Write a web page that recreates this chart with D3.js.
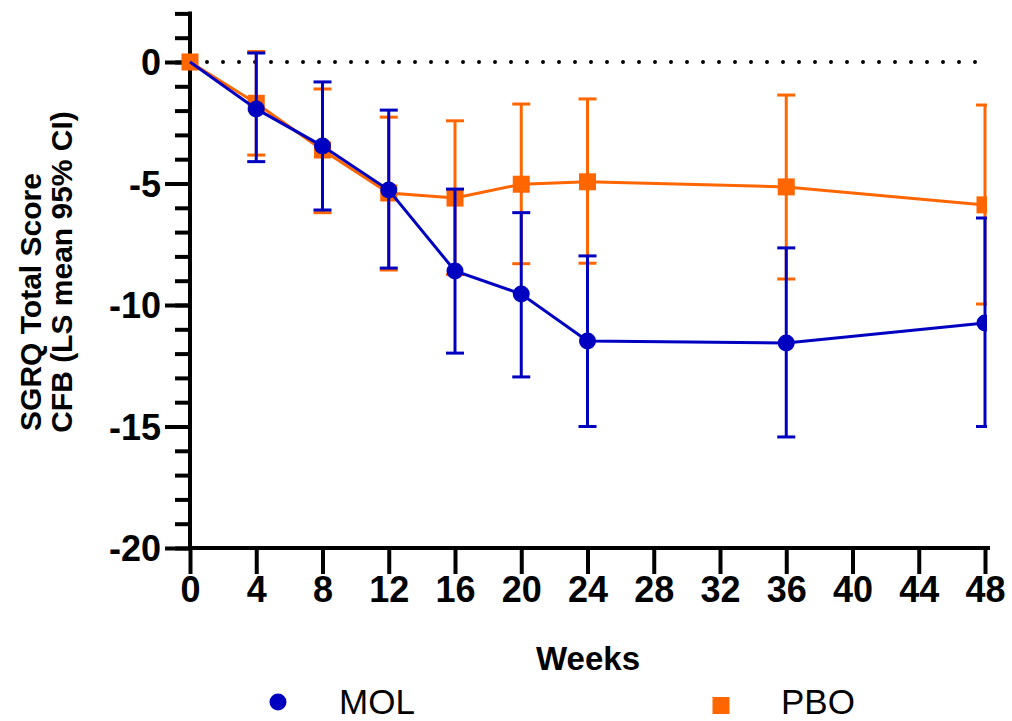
<!DOCTYPE html>
<html>
<head>
<meta charset="utf-8">
<script src="https://cdn.jsdelivr.net/npm/d3@7"></script>
<style>
	body { margin: 0; background: #fff; }
	svg { display: block; font-family: "Liberation Sans", Arial, sans-serif; }
</style>
</head>
<body>
<svg id="chart" width="1012" height="721"></svg>
<script>
// data
const weeks = [0, 4, 8, 12, 16, 20, 24, 36, 48];
const molMean = [0, -1.93, -3.46, -5.27, -8.6, -9.55, -11.48, -11.56, -10.74];
const molLow = [0, -4.1, -6.09, -8.48, -11.98, -12.96, -15.0, -15.43, -15.0];
const molHigh = [0, 0.37, -0.82, -1.98, -5.23, -6.2, -7.98, -7.65, -6.42];
const pboMean = [0, -1.7, -3.62, -5.39, -5.6, -5.03, -4.93, -5.14, -5.88];
const pboLow = [0, -3.83, -6.2, -8.56, -8.75, -8.3, -8.28, -8.93, -9.96];
const pboHigh = [0, 0.43, -1.11, -2.27, -2.42, -1.73, -1.52, -1.36, -1.77];
const xTicks = [0, 4, 8, 12, 16, 20, 24, 28, 32, 36, 40, 44, 48];
const yTicks = [0, -5, -10, -15, -20];
const yMinor = d3.range(-20, 3, 1);

const BLUE = "#0000c0", ORANGE = "#ff6600";

const svg = d3.select("#chart");
const x = d3.scaleLinear().domain([0, 48]).range([190, 985]);
const y = d3.scaleLinear().domain([-20, 0]).range([548, 62]);

svg.append("defs").append("clipPath").attr("id", "plotClip")
	.append("rect").attr("x", 0).attr("y", 0).attr("width", 987).attr("height", 721);

// zero reference line
svg.append("line")
	.attr("x1", x(0) + 17).attr("x2", x(48))
	.attr("y1", y(0)).attr("y2", y(0))
	.attr("stroke", "#000").attr("stroke-width", 4)
	.attr("stroke-linecap", "round").attr("stroke-dasharray", "0 16");

// axes
const yMinorAxis = svg.append("g")
	.attr("transform", `translate(${x(0)},0)`)
	.call(d3.axisLeft(y).tickValues(yMinor).tickSize(13).tickFormat(""));
yMinorAxis.select(".domain").remove();

const yAxis = svg.append("g")
	.attr("transform", `translate(${x(0)},0)`)
	.call(d3.axisLeft(y).tickValues(yTicks).tickSize(23).tickPadding(6)
		.tickSizeOuter(0).tickFormat(d => String(d)));
yAxis.select(".domain").attr("d", `M0,${y(2)}V${y(-20)}`);

const xAxis = svg.append("g")
	.attr("transform", `translate(0,${y(-20)})`)
	.call(d3.axisBottom(x).tickValues(xTicks).tickSize(24).tickPadding(4)
		.tickSizeOuter(0).tickFormat(d => String(d)));
xAxis.select(".domain").attr("d", `M${x(0)},0H988`);

svg.selectAll(".domain, .tick line")
	.attr("stroke", "#000").attr("stroke-width", 4).attr("stroke-linecap", "square");
svg.selectAll(".tick text")
	.attr("fill", "#000").attr("font-size", 36).attr("font-weight", "bold")
	.attr("font-family", "Liberation Sans, Arial, sans-serif");
yAxis.selectAll(".tick text").attr("dy", "0.36em");

// axis titles
svg.append("text")
	.attr("transform", `translate(41,302) rotate(-90)`)
	.attr("text-anchor", "middle").attr("font-size", 30).attr("font-weight", "bold")
	.text("SGRQ Total Score");
svg.append("text")
	.attr("transform", `translate(72,272) rotate(-90)`)
	.attr("text-anchor", "middle").attr("font-size", 30).attr("font-weight", "bold")
	.text("CFB (LS mean 95% CI)");
svg.append("text")
	.attr("x", 588).attr("y", 670)
	.attr("text-anchor", "middle").attr("font-size", 33).attr("font-weight", "bold")
	.text("Weeks");

// series
function series(mean, low, high, color, shape) {
	const pts = weeks.map((w, i) => ({ w, m: mean[i], lo: low[i], hi: high[i] }));
	const g = svg.append("g").attr("clip-path", "url(#plotClip)");
	const bars = pts.filter(d => d.w > 0);
	g.selectAll("line.bar").data(bars).enter().append("line")
		.attr("x1", d => x(d.w)).attr("x2", d => x(d.w))
		.attr("y1", d => y(d.hi)).attr("y2", d => y(d.lo))
		.attr("stroke", color).attr("stroke-width", 3);
	["hi", "lo"].forEach(k => {
		g.selectAll("line.cap" + k).data(bars).enter().append("line")
			.attr("x1", d => x(d.w) - 9).attr("x2", d => x(d.w) + 9)
			.attr("y1", d => y(d[k])).attr("y2", d => y(d[k]))
			.attr("stroke", color).attr("stroke-width", 3);
	});
	g.append("path").datum(pts)
		.attr("fill", "none").attr("stroke", color).attr("stroke-width", 3)
		.attr("d", d3.line().x(d => x(d.w)).y(d => y(d.m)));
	if (shape === "circle") {
		g.selectAll("circle").data(pts.filter(d => d.w > 0)).enter().append("circle")
			.attr("cx", d => x(d.w)).attr("cy", d => y(d.m)).attr("r", 8.5)
			.attr("fill", color);
	} else {
		g.selectAll("rect").data(pts).enter().append("rect")
			.attr("x", d => x(d.w) - 8.5).attr("y", d => y(d.m) - 8.5)
			.attr("width", 17).attr("height", 17).attr("fill", color);
	}
}
series(pboMean, pboLow, pboHigh, ORANGE, "square");
series(molMean, molLow, molHigh, BLUE, "circle");

// legend
const legend = [
	{ name: "MOL", color: BLUE, shape: "circle", mx: 278, tx: 339 },
	{ name: "PBO", color: ORANGE, shape: "square", mx: 721, tx: 781 }
];
legend.forEach(d => {
	if (d.shape === "circle") {
		svg.append("circle").attr("cx", d.mx).attr("cy", 702).attr("r", 8.5).attr("fill", d.color);
	} else {
		svg.append("rect").attr("x", d.mx - 8.5).attr("y", 697).attr("width", 17).attr("height", 17)
			.attr("fill", d.color);
	}
	svg.append("text").attr("x", d.tx).attr("y", 714)
		.attr("font-size", 35).attr("fill", "#000").text(d.name);
});
</script>
</body>
</html>
